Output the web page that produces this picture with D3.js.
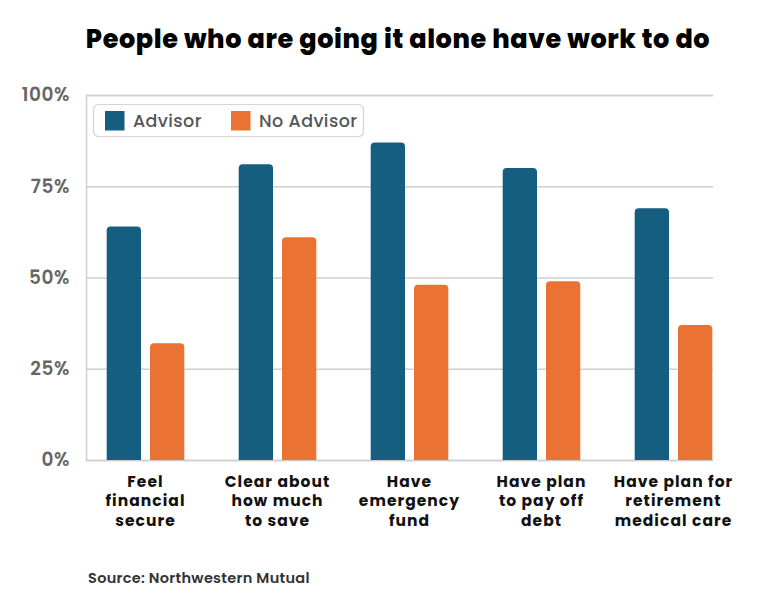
<!DOCTYPE html>
<html>
<head>
<meta charset="utf-8">
<script src="https://cdn.jsdelivr.net/npm/d3@7"></script>
<style>
  html, body { margin: 0; padding: 0; background: #fff; }
  svg { display: block; font-family: "Poppins", "Inter", "Noto Sans", sans-serif; }
</style>
</head>
<body>
<svg id="chart" width="765" height="602"></svg>
<script>
const categories = [
  ["Feel", "financial", "secure"],
  ["Clear about", "how much", "to save"],
  ["Have", "emergency", "fund"],
  ["Have plan", "to pay off", "debt"],
  ["Have plan for", "retirement", "medical care"]
];
const seriesNames = ["Advisor", "No Advisor"];
const advisor = [64, 81, 87, 80, 69];
const noAdvisor = [32, 61, 48, 49, 37];
const yTicks = [0, 25, 50, 75, 100];
const colors = ["#165e80", "#ea7333"];

const svg = d3.select("#chart");
const plot = { left: 86, right: 713, top: 95, bottom: 460 };

const y = d3.scaleLinear().domain([0, 100]).range([plot.bottom, plot.top]);
const catKeys = categories.map((c, i) => i);
const x0 = d3.scaleBand().domain(catKeys).range([79.5, 739.5]).paddingInner(0.412).paddingOuter(0.206);
const x1 = d3.scaleBand().domain(seriesNames).range([0, x0.bandwidth()]).paddingInner(0.208);

// title
svg.append("text")
  .attr("x", 398).attr("y", 48)
  .attr("text-anchor", "middle")
  .attr("font-size", 25.5).attr("font-weight", 800).attr("fill", "#000")
  .attr("letter-spacing", 0.6)
  .text("People who are going it alone have work to do");

// gridlines
const yAxis = d3.axisLeft(y).tickValues(yTicks).tickSize(-(plot.right - plot.left)).tickFormat(d => d + "%").tickPadding(16);
const gy = svg.append("g").attr("transform", `translate(${plot.left},0)`).call(yAxis);
gy.select(".domain").attr("stroke", "#cfcfcf").attr("stroke-width", 1.5);
gy.selectAll(".tick line").attr("stroke", "#cfcfcf").attr("stroke-width", 1.5);
gy.selectAll(".tick text")
  .attr("font-size", 18.5).attr("font-weight", 600).attr("fill", "#666")
  .attr("letter-spacing", 0.6)
  .attr("font-family", "Poppins, Inter, sans-serif");

// bars
const data = catKeys.map(i => ({ i, vals: [advisor[i], noAdvisor[i]] }));
const r = 4;
function topRounded(x, yTop, w, yBot) {
  return `M${x},${yBot}V${yTop + r}Q${x},${yTop} ${x + r},${yTop}H${x + w - r}Q${x + w},${yTop} ${x + w},${yTop + r}V${yBot}Z`;
}
const groups = svg.append("g").selectAll("g").data(data).join("g")
  .attr("transform", d => `translate(${x0(d.i)},0)`);
groups.selectAll("path").data(d => d.vals.map((v, k) => ({ v, k }))).join("path")
  .attr("d", d => topRounded(x1(seriesNames[d.k]), y(d.v), x1.bandwidth(), y(0)))
  .attr("fill", d => colors[d.k]);

// x labels
const xl = svg.append("g");
categories.forEach((lines, i) => {
  const cx = x0(i) + x0.bandwidth() / 2;
  lines.forEach((ln, j) => {
    xl.append("text").attr("text-anchor", "middle")
      .attr("font-size", 15.5).attr("font-weight", 700).attr("fill", "#111")
      .attr("letter-spacing", 1.05)
      .attr("x", cx).attr("y", 486.5 + j * 19.8).text(ln);
  });
});

// legend
const lg = svg.append("g");
lg.append("rect").attr("x", 93.5).attr("y", 104.5).attr("width", 270).attr("height", 32)
  .attr("rx", 5).attr("fill", "#fff").attr("stroke", "#d4d4d4").attr("stroke-width", 1.2);
const legendX = [105, 231];
seriesNames.forEach((s, k) => {
  lg.append("rect").attr("x", legendX[k]).attr("y", 111).attr("width", 19.5).attr("height", 19.5).attr("fill", colors[k]);
  lg.append("text").attr("x", legendX[k] + 28).attr("y", 127)
    .attr("font-size", 17.5).attr("font-weight", 500).attr("fill", "#555")
    .attr("letter-spacing", 0.4).text(s);
});

// source
svg.append("text").attr("x", 88).attr("y", 583)
  .attr("font-size", 14.5).attr("font-weight", 600).attr("fill", "#333")
  .attr("letter-spacing", 0.3)
  .text("Source: Northwestern Mutual");
</script>
</body>
</html>
